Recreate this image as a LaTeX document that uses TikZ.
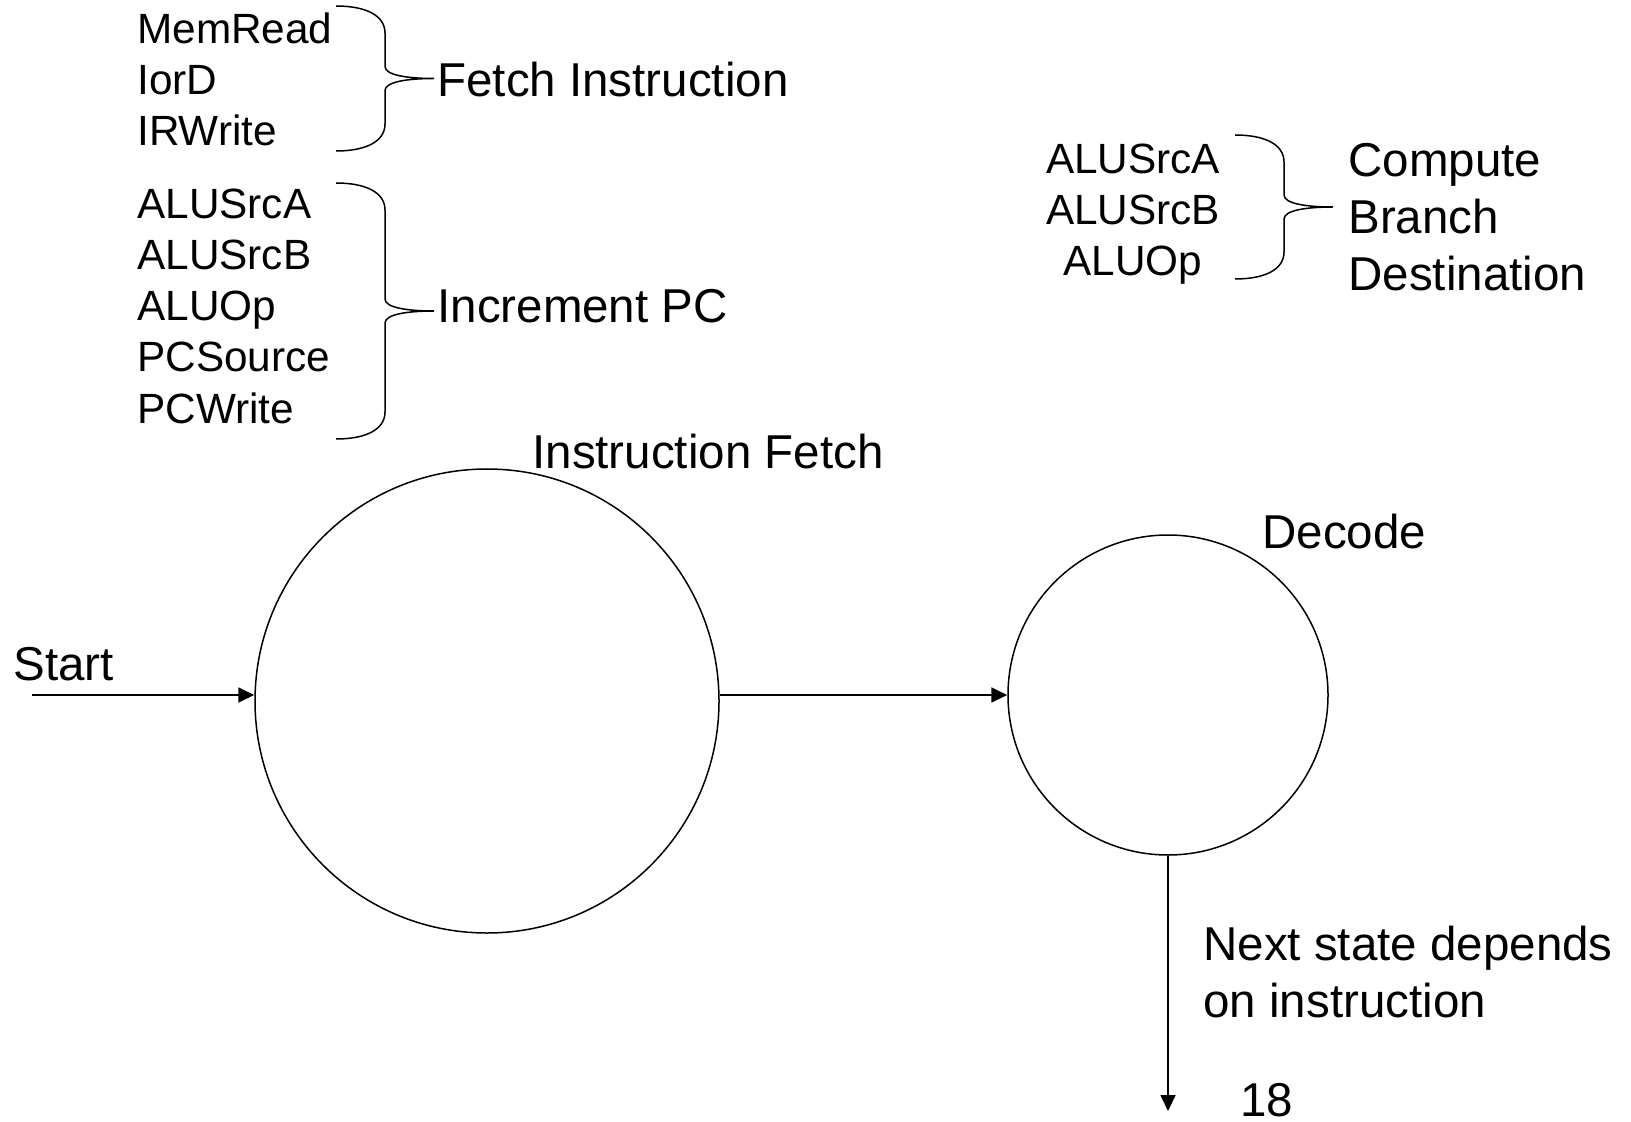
\documentclass[tikz,border=0pt]{standalone}
\usepackage{fontspec}
\setmainfont{Liberation Sans}
\usepackage{tikz}
\usetikzlibrary{arrows.meta,%
		calc,%
		positioning}

%graffa: x delle punte, y alto, y basso
\newcommand{\graffa}[3]{%
\draw[graffa] (#1,#2) .. controls +(29,0) and +(0,-18) .. (#1+49,#2+27)
	-- (#1+49,{(#2+#3)/2-12}) .. controls +(0,9) and +(-25,0) .. (#1+98,{(#2+#3)/2})
	.. controls +(-25,0) and +(0,-9) .. (#1+49,{(#2+#3)/2+12})
	-- (#1+49,#3-27) .. controls +(0,18) and +(29,0) .. (#1,#3);}

\begin{document}
\begin{tikzpicture}[x=0.5pt,y=-0.5pt,
	piccolo/.style={inner sep=0pt,font=\fontsize{21.15}{25.6}\selectfont},
	grande/.style={inner sep=0pt,font=\fontsize{23.75}{28.5}\selectfont},
	stato/.style={circle,draw,line width=0.75pt},
	freccia/.style={line width=0.9pt,-{Triangle[length=8pt,width=7.5pt]}},
	graffa/.style={line width=0.75pt}]
\useasboundingbox (0,0) rectangle (1631,1122);
%stati
\node[stato,minimum size=464*0.5pt] (F) at (487,701) {};
\node[stato,minimum size=320*0.5pt] (D) at (1168,695) {};
\node[grande,anchor=base west] (nF) at (532,468) {Instruction Fetch};
\node[grande,anchor=base west] (nD) at (1262,548) {Decode};
%frecce
\coordinate (S) at (32,695);
\coordinate (E) at (1168,1111);
\node[grande,anchor=base west] (nS) at (13,680) {Start};
\draw[freccia] (S) -- (S -| F.west);
\draw[freccia] (F.east |- D) -- (D.west);
\draw[freccia] (D) -- (E);
\node[grande,anchor=base west,align=left] (nE) at (1203,1017) {Next state depends\\on instruction};
\node[grande,anchor=base west] (pag) at (1240,1116) {18};
%segnali (base = ultima riga)
\node[piccolo,anchor=base west,align=left] (s1) at (137,146) {MemRead\\IorD\\IRWrite};
\node[piccolo,anchor=base west,align=left] (s2) at (137,423) {ALUSrcA\\ALUSrcB\\ALUOp\\PCSource\\PCWrite};
\node[piccolo,anchor=base,align=center] (s3) at (1133,276) {ALUSrcA\\ALUSrcB\\ALUOp};
%graffe
\graffa{336}{6}{151}
\graffa{336}{183}{439}
\graffa{1235}{135}{279}
\node[grande,anchor=base west] (a1) at (437,97) {Fetch Instruction};
\node[grande,anchor=base west] (a2) at (437,323) {Increment PC};
\node[grande,anchor=base west,align=left] (a3) at (1348,291) {Compute\\Branch\\Destination};
\end{tikzpicture}
\end{document}
